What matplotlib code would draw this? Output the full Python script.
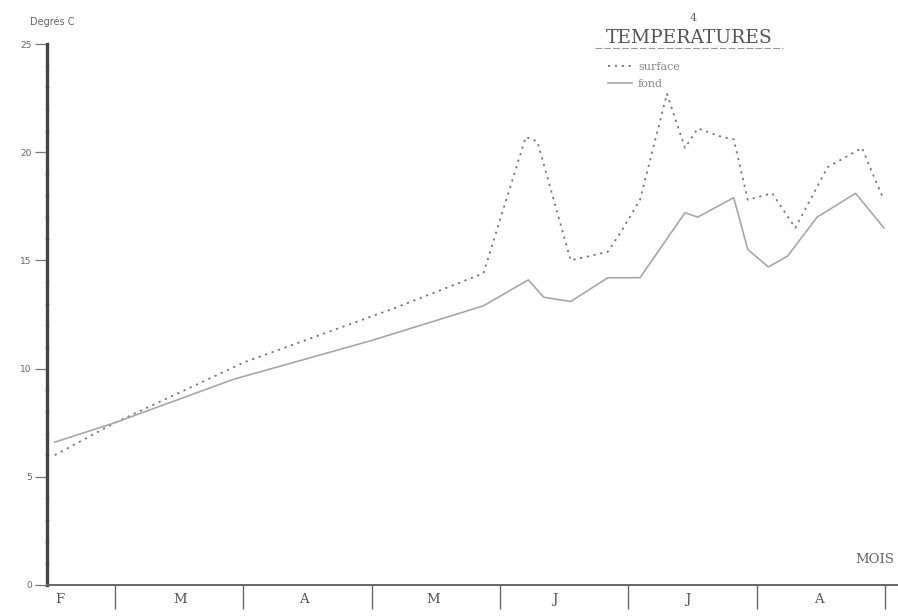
import matplotlib
matplotlib.use("Agg")
import matplotlib.pyplot as plt
from matplotlib.ticker import MultipleLocator, FixedLocator, NullFormatter

# temps en mois (1 = debut mars, 2 = debut avril, ...)
t_surface = [0.53, 1.0, 2.01, 3.18, 3.87, 4.20, 4.29, 4.55, 4.84, 4.94, 5.09,
             5.30, 5.44, 5.54, 5.73, 5.82, 5.93, 6.12, 6.30, 6.55, 6.82, 6.91, 6.99]
surface = [6.0, 7.5, 10.3, 12.8, 14.4, 20.7, 20.5, 15.0, 15.4, 16.3, 17.8,
           22.7, 20.2, 21.1, 20.7, 20.6, 17.8, 18.1, 16.5, 19.3, 20.2, 18.9, 17.8]

t_fond = [0.53, 1.0, 1.92, 3.0, 3.87, 4.22, 4.34, 4.55, 4.84, 5.09, 5.44,
          5.54, 5.82, 5.93, 6.09, 6.24, 6.47, 6.77, 6.99]
fond = [6.6, 7.5, 9.5, 11.3, 12.9, 14.1, 13.3, 13.1, 14.2, 14.2, 17.2,
        17.0, 17.9, 15.5, 14.7, 15.2, 17.0, 18.1, 16.5]

mois = ["F", "M", "A", "M", "J", "J", "A"]
pos_mois = [0.57, 1.51, 2.47, 3.48, 4.43, 5.46, 6.48]
limites_mois = [1, 2, 3, 4, 5, 6, 7]
graduations = [0, 5, 10, 15, 20, 25]

W, H = 898, 616
fig = plt.figure(figsize=(W / 100, H / 100), dpi=100)
ax = fig.add_axes([47 / W, 31 / H, 1 - 47 / W, 541 / H])

ax.plot(t_surface, surface, color="#555555", lw=1.3, ls=(0, (1.2, 2.6)),
        alpha=0.8, label="surface")
ax.plot(t_fond, fond, color="#a8a8a8", lw=1.2, label="fond")

ax.set_xlim(0.47, 7.10)
ax.set_ylim(0, 25)

for s in ["top", "right"]:
    ax.spines[s].set_visible(False)
ax.spines["left"].set_linewidth(2.4)
ax.spines["left"].set_color("#444444")
ax.spines["bottom"].set_linewidth(1.4)
ax.spines["bottom"].set_color("#666666")

# axe des temperatures
ax.yaxis.set_major_locator(FixedLocator(graduations))
ax.yaxis.set_minor_locator(MultipleLocator(1))
ax.set_yticklabels([str(g) for g in graduations], fontsize=6.5,
                   color="#666666", family="DejaVu Sans")
ax.tick_params(axis="y", which="major", direction="out", length=9,
               width=0.9, color="#777777", pad=2)
ax.tick_params(axis="y", which="minor", direction="inout", length=3,
               width=0.8, color="#888888")

# axe des mois
ax.xaxis.set_major_locator(FixedLocator(limites_mois))
ax.xaxis.set_major_formatter(NullFormatter())
ax.tick_params(axis="x", which="major", direction="out", length=17,
               width=1, color="#666666")
for p, m in zip(pos_mois, mois):
    ax.text(p, -0.65, m, ha="center", va="center", fontsize=9.5,
            family="DejaVu Serif", color="#555555")

ax.text(6.92, 1.2, "MOIS", ha="center", va="center", fontsize=9.5,
        family="DejaVu Serif", color="#666666")

fig.text(52 / W, 1 - 22 / H, "Degrés C", ha="center", va="center",
         fontsize=7, color="#666666")

# titre et legende
fig.text(693 / W, 1 - 18 / H, "4", ha="center", va="center",
         fontsize=8, family="DejaVu Serif", color="#666666")
fig.text(689 / W, 1 - 38 / H, "TEMPERATURES", ha="center",
         va="center", fontsize=13.5, family="DejaVu Serif", color="#555555")
fig.add_artist(plt.Line2D([595 / W, 783 / W], [1 - 48 / H, 1 - 48 / H],
                          color="#999999", lw=0.8, ls=(0, (6, 2))))

leg = ax.legend(loc="upper left", bbox_to_anchor=(598 / W, 1 - 52 / H),
                bbox_transform=fig.transFigure, frameon=False,
                prop={"family": "DejaVu Serif", "size": 8},
                handlelength=2.2, labelspacing=0.6, handletextpad=0.5)
for t in leg.get_texts():
    t.set_color("#888888")

fig.savefig("out.png", dpi=100)
